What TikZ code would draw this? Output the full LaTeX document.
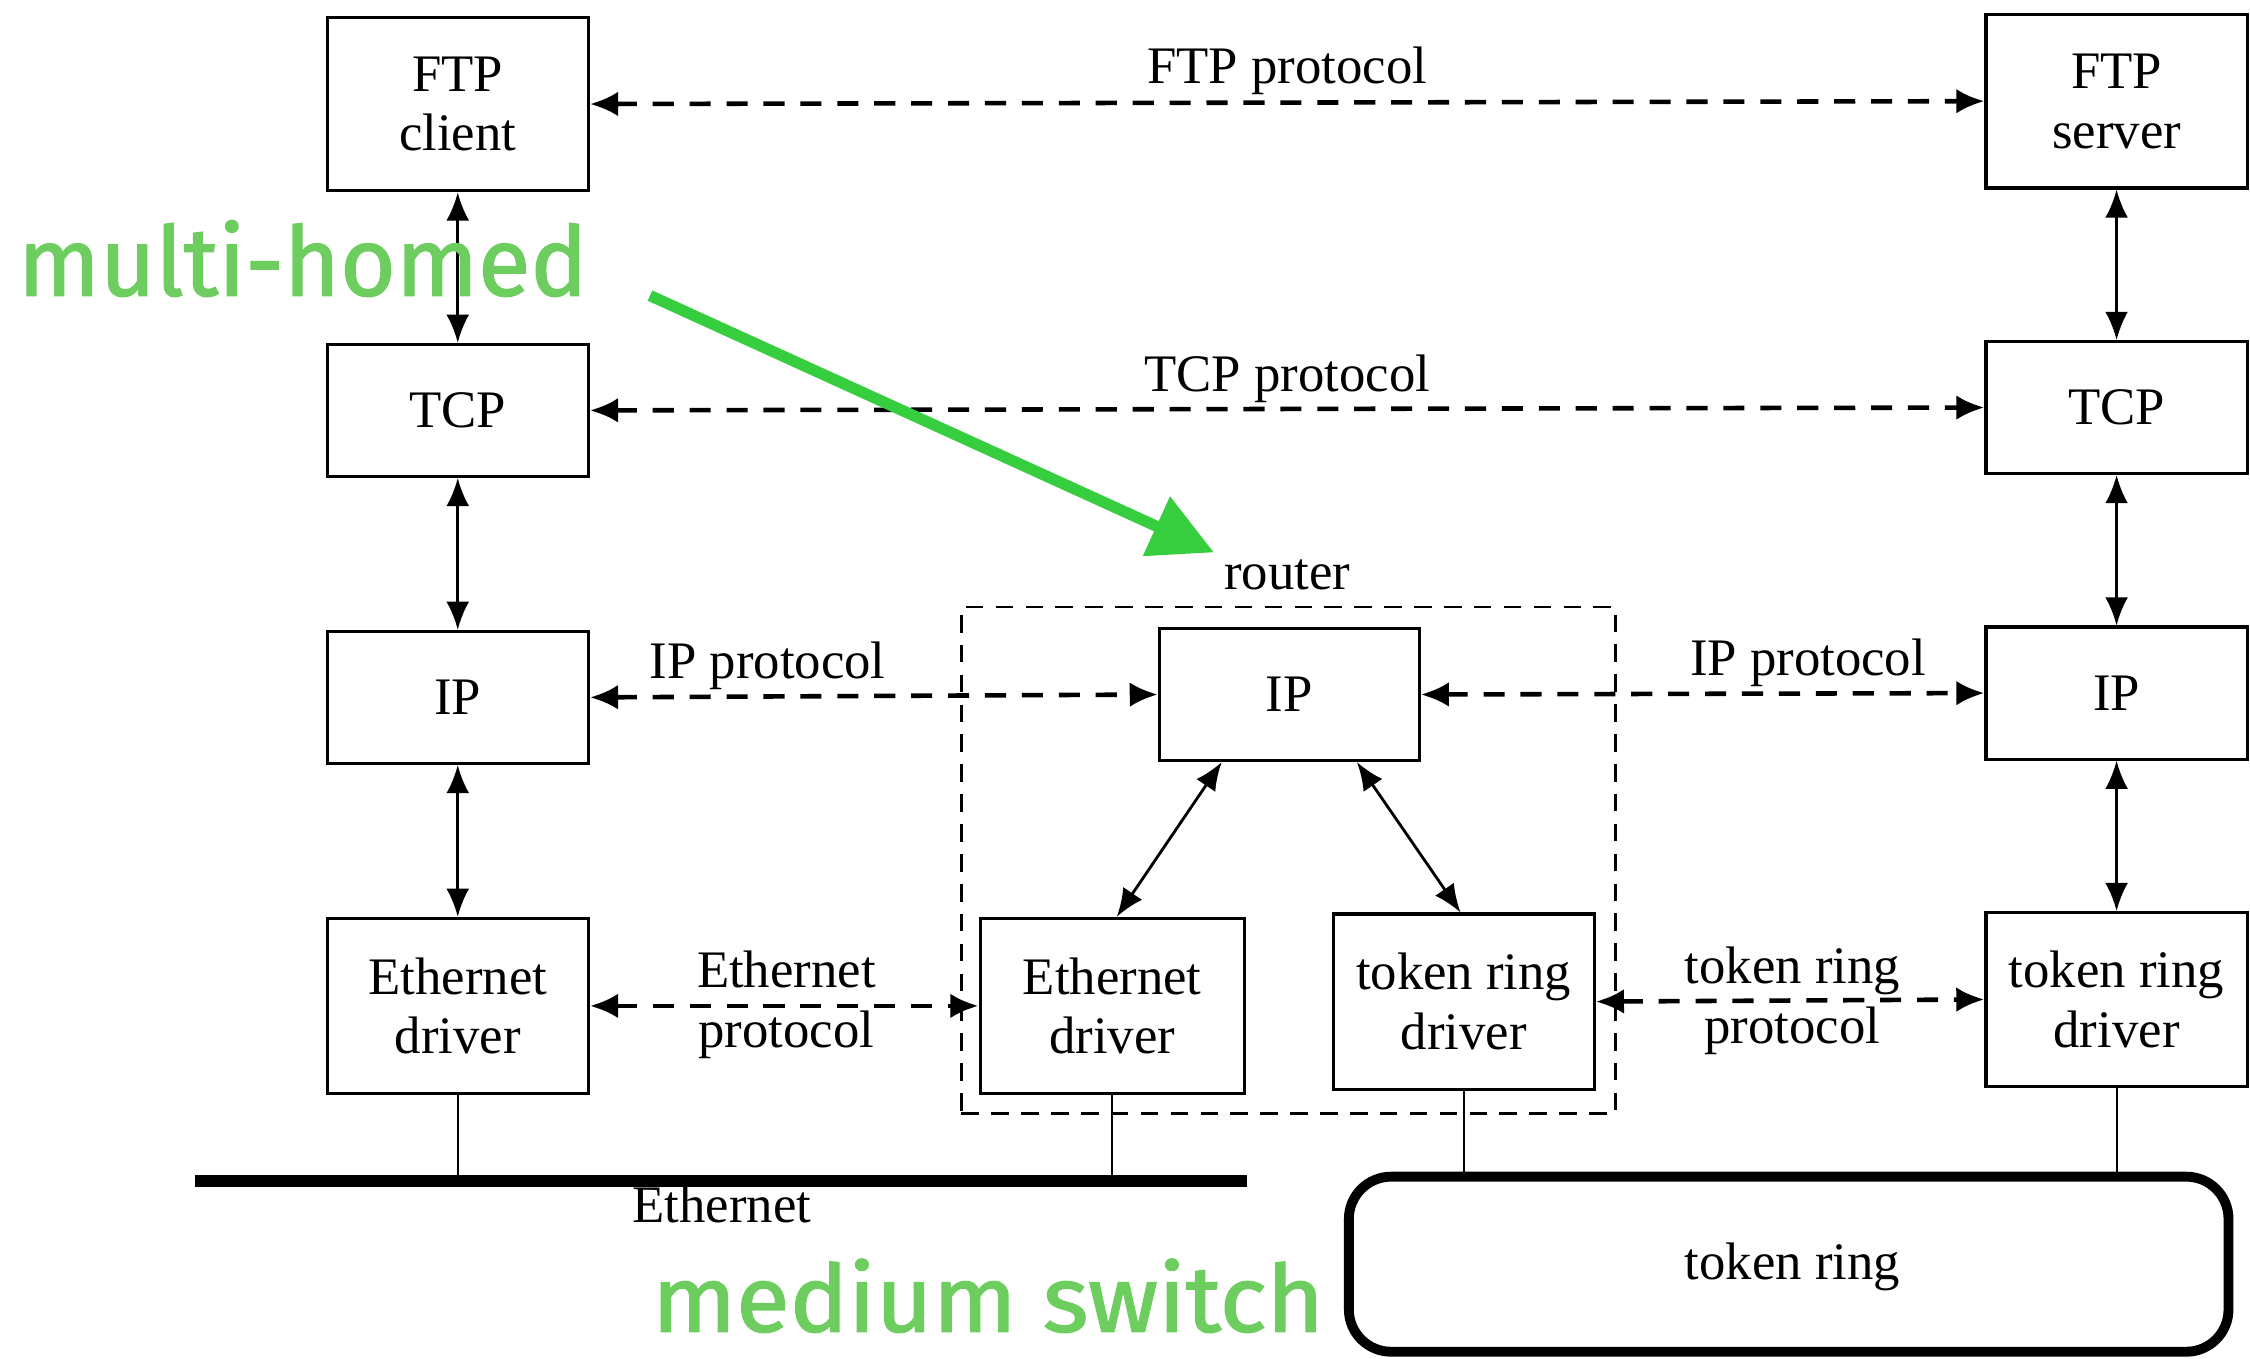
\documentclass[tikz,border=0pt]{standalone}
\usepackage{fontspec}
\setmainfont{Liberation Serif}
\newfontfamily\notefont[FakeBold=1.5]{Fira Sans}
\usetikzlibrary{arrows.meta,fit}
\definecolor{notegreen}{RGB}{109,206,95}
\definecolor{arrowgreen}{RGB}{54,206,62}
\begin{document}
\begin{tikzpicture}[x=0.01435cm, y=-0.01435cm,
  every node/.style={font=\fontsize{15}{17}\selectfont},
  layer/.style 2 args={draw, line width=0.9pt, inner sep=0pt, align=center,
    minimum width={#1*0.01435cm}, minimum height={#2*0.01435cm}},
  updown/.style={line width=0.8pt, {Latex[length=8pt,width=6.5pt]}-{Latex[length=8pt,width=6.5pt]}},
  proto/.style={line width=1.3pt, dash pattern=on 6pt off 4.5pt,
    {Latex[length=8pt,width=7pt]}-{Latex[length=8pt,width=7pt]}},
  routerbox/.style={draw, line width=0.8pt, dash pattern=on 5pt off 3.5pt, inner sep=0pt},
  lbl/.style={anchor=base, inner sep=0pt, align=center},
  note/.style={text=notegreen, inner sep=0pt, anchor=base west}]

\useasboundingbox (0,0) rectangle (1568,947);

% client host
\node[layer={182}{121}] (ftpc) at (319,72.5) {FTP\\client};
\node[layer={182}{92}]  (ltcp) at (319,286)  {TCP};
\node[layer={182}{92}]  (lip)  at (319,486)  {IP};
\node[layer={182}{122}] (led)  at (319,701)  {Ethernet\\driver};

% server host
\node[layer={182}{121}] (ftps) at (1475,70.5) {FTP\\server};
\node[layer={182}{92}]  (rtcp) at (1475,284)  {TCP};
\node[layer={182}{92}]  (rip2) at (1475,483)  {IP};
\node[layer={182}{121}] (rtd)  at (1475,696.5) {token ring\\driver};

% router
\node[routerbox, fit={(670,423) (1126,776)}] (router) {};
\node[lbl] (routerlbl) at (897,411) {router};
\node[layer={181}{92}]  (rip) at (898.5,484) {IP};
\node[layer={184}{122}] (red) at (775,701)   {Ethernet\\driver};
\node[layer={182}{122}] (rtr) at (1020,698)  {token ring\\driver};

% networks
\coordinate (ethL) at (136,823);
\coordinate (ethR) at (869,823);
\draw[line width=3.2pt] (ethL) -- (ethR);
\node[lbl] (ethlbl) at (503,852) {Ethernet};
\node[draw, line width=2.8pt, rounded corners=12pt, inner sep=0pt,
      fit={(940,820) (1553,942)}] (ring) {};
\node[lbl] (ringlbl) at (1249,892) {token ring};

% attachments to the media
\draw[line width=0.6pt] (led.south) -- (led.south |- ethL);
\draw[line width=0.6pt] (red.south) -- (red.south |- ethL);
\draw[line width=0.6pt] (rtr.south) -- (rtr.south |- ring.north);
\draw[line width=0.6pt] (rtd.south) -- (rtd.south |- ring.north);

% stacks
\draw[updown] (ftpc.south) -- (ltcp.north);
\draw[updown] (ltcp.south) -- (lip.north);
\draw[updown] (lip.south) -- (led.north);
\draw[updown] (ftps.south) -- (rtcp.north);
\draw[updown] (rtcp.south) -- (rip2.north);
\draw[updown] (rip2.south) -- (rtd.north);
\draw[updown] (rip.225) -- (red.87);
\draw[updown] (rip.315) -- (rtr.92);

% peer protocols
\draw[proto] (ftpc.east) -- (ftps.west);
\node[lbl] (ftpp) at (897,58) {FTP protocol};
\draw[proto] (ltcp.east) -- (rtcp.west);
\node[lbl] (tcpp) at (897,273) {TCP protocol};
\draw[proto] (lip.east) -- (rip.west);
\node[lbl] (ipp1) at (535,473) {IP protocol};
\draw[proto] (rip.east) -- (rip2.west);
\node[lbl] (ipp2) at (1260,471) {IP protocol};
\draw[proto] (led.east) -- (red.west);
\node[lbl] (ethp) at (548,730) {Ethernet\\protocol};
\draw[proto] (rtr.east) -- (rtd.west);
\node[lbl] (trp) at (1249,727) {token ring\\protocol};

% annotations
\node[note] (mh) at (12,206) {\resizebox{162pt}{21.4pt}{\notefont multi-homed}};
\node[note] (ms) at (454,928) {\resizebox{191pt}{20.7pt}{\notefont medium switch}};
\coordinate (gs) at (453,206);
\coordinate (ge) at (846,385);
\draw[arrowgreen, line width=3.2pt, -{Triangle[length=18pt,width=17.8pt]}] (gs) -- (ge);

\end{tikzpicture}
\end{document}
